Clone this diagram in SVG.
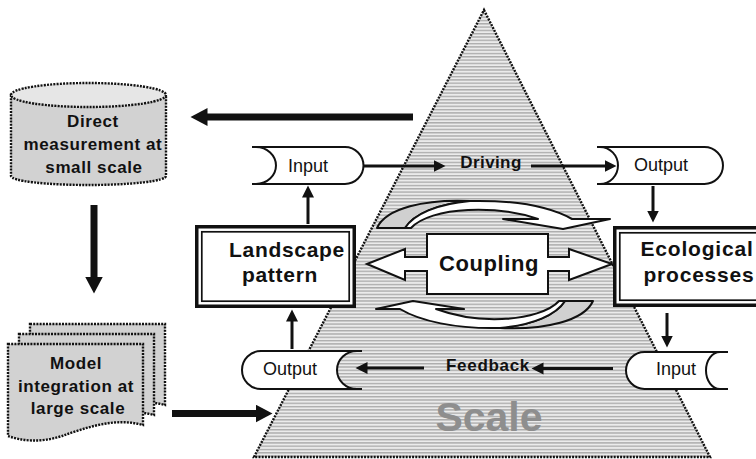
<svg xmlns="http://www.w3.org/2000/svg" width="756" height="459" viewBox="0 0 756 459">
<style>
.t{font-family:"Liberation Sans",Arial,sans-serif;fill:#111;text-anchor:middle}
.b{font-weight:bold}
.dot{stroke:#111;stroke-width:2.4;stroke-dasharray:2 1.2}
.shape{fill:#fff;stroke:#111;stroke-width:2}
.frame-o{fill:#fff;stroke:#111;stroke-width:3.5}
.frame-i{fill:none;stroke:#111;stroke-width:1.7}
.big{stroke:#111;stroke-width:7;fill:none;marker-end:url(#bh)}
.med{stroke:#111;stroke-width:3;fill:none;marker-end:url(#ah)}
.curve{stroke:#111;stroke-width:2;stroke-linejoin:round}
</style>
<defs>
<pattern id="stripes" patternUnits="userSpaceOnUse" width="10" height="3.3">
<rect width="10" height="3.3" fill="#ebebeb"/>
<rect width="10" height="1.4" fill="#acacac"/>
</pattern>
<marker id="ah" markerUnits="userSpaceOnUse" markerWidth="13" markerHeight="13" refX="0.5" refY="6" orient="auto">
<path d="M0,0 L12,6 L0,12 z" fill="#111"/>
</marker>
<marker id="bh" markerUnits="userSpaceOnUse" markerWidth="18" markerHeight="19" refX="0.5" refY="9" orient="auto">
<path d="M0,0 L17,9 L0,18 z" fill="#111"/>
</marker>
<path id="page" d="M8,344 H143 V425 C115,417 85,428 62,436 C40,443 22,441 8,436 Z"/>
</defs>

<g id="scale-triangle">
<polygon points="484,10 710,457 254,457" fill="url(#stripes)" class="dot"/>
<text class="t b" x="489" y="431" font-size="41" style="fill:#8e8e8e">Scale</text>
</g>

<g id="direct-measurement">
<path d="M11,95 V176 A77.5,9 0 0 0 166,176 V95 Z" fill="#d2d2d2" class="dot" stroke-width="2"/>
<ellipse cx="88.5" cy="95" rx="77.5" ry="12" fill="#e6e6e6" class="dot" stroke-width="2"/>
<text class="t b" font-size="17" letter-spacing="0.6"><tspan x="93" y="127">Direct</tspan><tspan x="93" y="150">measurement at</tspan><tspan x="94" y="173">small scale</tspan></text>
</g>

<g id="model-integration">
<use href="#page" transform="translate(22,-20)" fill="#d2d2d2" class="dot" stroke-width="2"/>
<use href="#page" transform="translate(11,-10)" fill="#d2d2d2" class="dot" stroke-width="2"/>
<use href="#page" fill="#d2d2d2" class="dot" stroke-width="2"/>
<text class="t b" font-size="17" letter-spacing="0.6"><tspan x="76" y="369">Model</tspan><tspan x="76" y="392">integration at</tspan><tspan x="78" y="414">large scale</tspan></text>
</g>

<g id="landscape-pattern">
<rect class="frame-o" x="196.75" y="226.75" width="157.5" height="79.5"/>
<rect class="frame-i" x="201.8" y="231.8" width="147.4" height="69.4"/>
<text class="t b" font-size="21" letter-spacing="0.7"><tspan x="287" y="257">Landscape</tspan><tspan x="280" y="282">pattern</tspan></text>
</g>

<g id="ecological-processes">
<rect class="frame-o" x="614.75" y="227.75" width="170" height="77.5"/>
<rect class="frame-i" x="619.8" y="232.8" width="160" height="67.4"/>
<text class="t b" font-size="21" letter-spacing="0.8"><tspan x="697" y="256">Ecological</tspan><tspan x="699" y="282">processes</tspan></text>
</g>

<g id="coupling">
<polygon class="shape" stroke-width="2.2" points="367,264 405,249 405,257 427,257 427,234 548,234 548,257 569,257 569,249 612,264 569,280 569,271 548,271 548,294 427,294 427,271 405,271 405,280"/>
<text class="t b" x="489" y="271" font-size="22" letter-spacing="0.6">Coupling</text>
</g>

<g id="curved-arrow-top">
<path class="curve" fill="#d0d0d0" d="M377,228 C386,208 425,199 470,201 C437,204 414,214 405,228 Z"/>
<path class="curve" fill="#fff" d="M405,228 C414,214 437,204 470,201 C518,200 552,208 572,219 L610,219 L563,229 L503,219 L538,219 C518,212 492,209 468,210 C442,211 420,218 411,228 Z"/>
</g>
<g id="curved-arrow-bottom">
<path class="curve" fill="#d0d0d0" d="M593,301 C584,321 545,330 500,328 C533,325 556,315 565,301 Z"/>
<path class="curve" fill="#fff" d="M565,301 C556,315 533,325 500,328 C455,329 420,321 400,309 L376,309 L413,301 L464,309 L436,309 C455,316 478,320 502,319 C528,318 550,311 559,301 Z"/>
</g>

<g id="input-top">
<path class="shape" d="M256,147 H345 A18.5,18.5 0 0 1 345,184 H256 A20,18.5 0 0 0 256,147 Z"/>
<path d="M252,147 H257 M252,184 H257" stroke="#111" stroke-width="2"/>
<text class="t" x="308" y="172" font-size="18">Input</text>
</g>

<g id="output-top">
<path class="shape" d="M600,147 H704.5 A18.5,18.5 0 0 1 704.5,184 H600 A18,18.5 0 0 0 600,147 Z"/>
<path d="M597,147 H601 M597,184 H601" stroke="#111" stroke-width="2"/>
<text class="t" x="661" y="171" font-size="18">Output</text>
</g>

<g id="output-bottom">
<path class="shape" d="M261,351 H357 A20,19 0 0 0 357,389 H261 A19,19 0 0 1 261,351 Z"/>
<path d="M356,351 H362 M356,389 H362" stroke="#111" stroke-width="2"/>
<text class="t" x="290" y="375" font-size="18">Output</text>
</g>

<g id="input-bottom">
<path class="shape" d="M644.5,352 H720 A14,18.5 0 0 0 720,389 H644.5 A18.5,18.5 0 0 1 644.5,352 Z"/>
<path d="M719,352 H728 M719,389 H728" stroke="#111" stroke-width="2"/>
<text class="t" x="676" y="375" font-size="18">Input</text>
</g>

<g id="connectors">
<path class="big" d="M413,117 H207"/>
<path class="big" d="M94,205 V277"/>
<path class="big" d="M172,413.5 H256"/>
<path class="med" d="M308,224 V197"/>
<path class="med" d="M363,166 H434"/>
<path class="med" d="M531,166 H605"/>
<path class="med" d="M653,186 V211"/>
<path class="med" d="M667,313 V336"/>
<path class="med" d="M613,368.5 H543"/>
<path class="med" d="M424,368 H367"/>
<path class="med" d="M292,349 V321"/>
<text class="t b" x="491" y="168" font-size="17" letter-spacing="0.4">Driving</text>
<text class="t b" x="488" y="371" font-size="17" letter-spacing="0.7">Feedback</text>
</g>
</svg>
